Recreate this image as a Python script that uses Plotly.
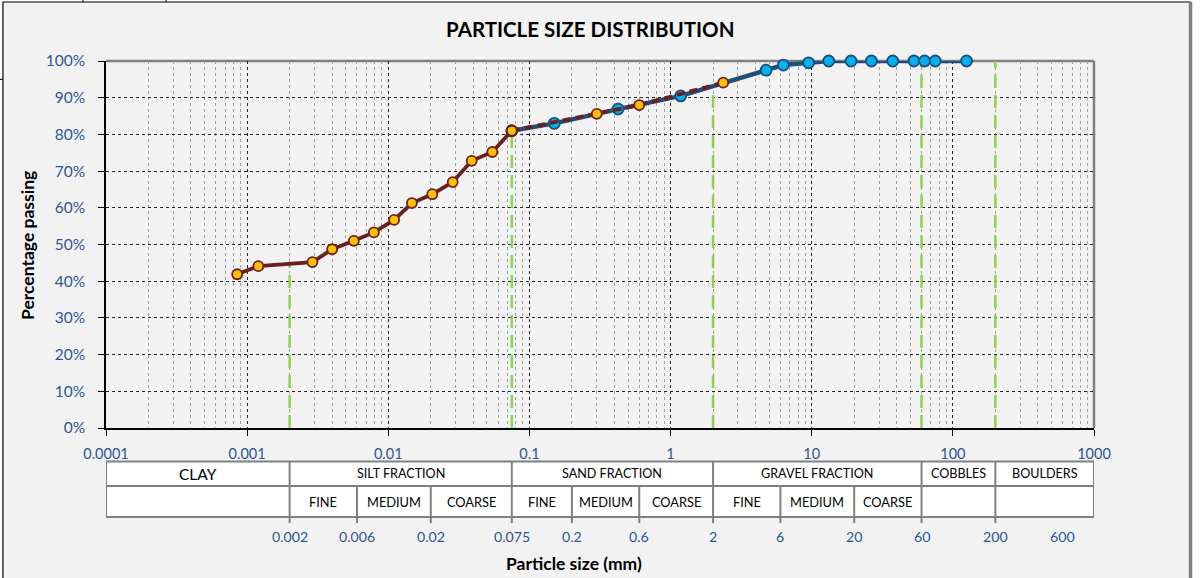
import numpy as np
import plotly.graph_objects as go

# ---------------- data ----------------
# hydrometer analysis (brown, solid) ending at 0.075 mm
hydro_size = [0.00085, 0.0012, 0.0029, 0.0040, 0.0057, 0.0079, 0.011, 0.0147,
              0.0205, 0.0286, 0.039, 0.0546, 0.075]
hydro_pass = [41.9, 44.1, 45.2, 48.7, 51.0, 53.3, 56.7, 61.3, 63.7, 67.0, 72.8, 75.2, 81.0]
# wet sieve (brown, dashed)
wet_size = [0.075, 0.3, 0.6, 2.36]
wet_pass = [81.0, 85.6, 88.0, 94.1]
# dry sieve (blue)
sieve_size = [0.075, 0.15, 0.425, 1.18, 4.75, 6.3, 9.5, 13.2, 19, 26.5, 37.5, 53, 63, 75, 125]
sieve_pass = [81.0, 83.0, 86.9, 90.5, 97.5, 98.9, 99.5, 100, 100, 100, 100, 100, 100, 100, 100]

# classification table
fraction_edges = [0.0001, 0.002, 0.075, 2, 60, 200, 1000]
fraction_names = ["CLAY", "SILT FRACTION", "SAND FRACTION", "GRAVEL FRACTION", "COBBLES", "BOULDERS"]
sub_edges = [0.002, 0.006, 0.02, 0.075, 0.2, 0.6, 2, 6, 20, 60]
sub_names = ["FINE", "MEDIUM", "COARSE", "FINE", "MEDIUM", "COARSE", "FINE", "MEDIUM", "COARSE"]
bottom_labels = [0.002, 0.006, 0.02, 0.075, 0.2, 0.6, 2, 6, 20, 60, 200, 600]
boundary_sizes = [0.002, 0.075, 2, 60, 200]
x_tick_vals = [0.0001, 0.001, 0.01, 0.1, 1, 10, 100, 1000]
x_tick_text = ["0.0001", "0.001", "0.01", "0.1", "1", "10", "100", "1000"]

FONT = "Lato"
BLUE_TXT = "#2f5597"
BROWN = "#6b1f1f"
ORANGE = "#ffc000"
DBLUE = "#1f4e79"
LBLUE = "#00b0f0"
GREEN = "#92d050"
GRAY = "#808080"

fig = go.Figure()

# sieve (blue)
fig.add_trace(go.Scatter(x=sieve_size, y=sieve_pass, mode="lines+markers", cliponaxis=False,
                         line=dict(color=DBLUE, width=4.5),
                         marker=dict(size=11, color=LBLUE, line=dict(color=DBLUE, width=1.8)),
                         showlegend=False))
# wet sieve (brown dashed)
fig.add_trace(go.Scatter(x=wet_size, y=wet_pass, mode="lines+markers", cliponaxis=False,
                         line=dict(color=BROWN, width=3.8, dash="8px,5px"),
                         marker=dict(size=10, color=ORANGE, line=dict(color=BROWN, width=1.8)),
                         showlegend=False))
# hydrometer (brown solid)
fig.add_trace(go.Scatter(x=hydro_size, y=hydro_pass, mode="lines+markers", cliponaxis=False,
                         line=dict(color=BROWN, width=3.8),
                         marker=dict(size=10, color=ORANGE, line=dict(color=BROWN, width=1.8)),
                         showlegend=False))

# combined curve for boundary lines
all_size = np.array(hydro_size + wet_size[1:] + sieve_size[1:], dtype=float)
all_pass = np.array(hydro_pass + wet_pass[1:] + sieve_pass[1:], dtype=float)
order = np.argsort(all_size)
all_size, all_pass = all_size[order], all_pass[order]

shapes = []
# chart background frame
shapes.append(dict(type="rect", xref="paper", yref="paper", x0=-0.1043, x1=1.0977,
                   y0=-0.45, y1=1.1608, fillcolor="#f2f2f2",
                   line=dict(color="black", width=1.2), layer="below"))
shapes.append(dict(type="line", xref="paper", yref="paper", x0=1.0977, x1=1.0977,
                   y0=-0.45, y1=1.1608, line=dict(color=GRAY, width=3.5), layer="below"))
# spreadsheet cell lines above the chart
for xp in [-0.0233, 0.0607]:
    shapes.append(dict(type="line", xref="paper", yref="paper", x0=xp, x1=xp, y0=1.1608, y1=1.17,
                       line=dict(color="black", width=1), layer="below"))
shapes.append(dict(type="line", xref="paper", yref="paper", x0=-0.11, x1=-0.1043, y0=0.95, y1=0.95,
                   line=dict(color="black", width=1), layer="below"))

for b in boundary_sizes:
    yv = float(np.interp(np.log10(b), np.log10(all_size), all_pass))
    shapes.append(dict(type="line", xref="x", yref="y", x0=b, x1=b, y0=0, y1=yv,
                       line=dict(color=GREEN, width=2.5, dash="13px,7px"), layer="between"))

# plot border top/right
shapes.append(dict(type="line", xref="paper", yref="paper", x0=0, x1=1, y0=1, y1=1,
                   line=dict(color=GRAY, width=2.5), layer="between"))
shapes.append(dict(type="line", xref="paper", yref="paper", x0=1, x1=1, y0=0, y1=1,
                   line=dict(color=GRAY, width=2.5), layer="between"))

# table
T_TOP, T_MID, T_BOT, T_EXT = -0.0913, -0.158, -0.2425, -0.259
shapes.append(dict(type="rect", xref="x", yref="paper", x0=fraction_edges[0], x1=fraction_edges[-1],
                   y0=T_BOT, y1=T_TOP, fillcolor="white", line=dict(color=GRAY, width=2)))
shapes.append(dict(type="line", xref="x", yref="paper", x0=fraction_edges[0], x1=fraction_edges[-1],
                   y0=T_MID, y1=T_MID, line=dict(color=GRAY, width=2)))
for e in fraction_edges[1:-1]:
    shapes.append(dict(type="line", xref="x", yref="paper", x0=e, x1=e, y0=T_EXT, y1=T_TOP,
                       line=dict(color=GRAY, width=2)))
for e in sub_edges:
    if e not in fraction_edges:
        shapes.append(dict(type="line", xref="x", yref="paper", x0=e, x1=e, y0=T_EXT, y1=T_MID,
                           line=dict(color=GRAY, width=2)))

annotations = []
for i, name in enumerate(fraction_names):
    xc = 0.5 * (np.log10(fraction_edges[i]) + np.log10(fraction_edges[i + 1]))
    annotations.append(dict(x=xc, y=-0.1247, xref="x", yref="paper", text=name, showarrow=False,
                            xanchor="center", yanchor="middle",
                            font=dict(family=FONT, size=15.5 if name == "CLAY" else 12.6, color="black")))
for i, name in enumerate(sub_names):
    xc = 0.5 * (np.log10(sub_edges[i]) + np.log10(sub_edges[i + 1]))
    annotations.append(dict(x=xc, y=-0.2003, xref="x", yref="paper", text=name, showarrow=False,
                            xanchor="center", yanchor="middle",
                            font=dict(family=FONT, size=12.8, color="black")))
for v in bottom_labels:
    annotations.append(dict(x=np.log10(v), y=-0.297, xref="x", yref="paper", text=f"{v:g}",
                            xanchor="center", yanchor="middle",
                            showarrow=False, font=dict(family=FONT, size=14.2, color=BLUE_TXT)))
annotations.append(dict(x=0.4737, y=-0.368, xref="paper", yref="paper", text="<b>Particle size (mm)</b>",
                        xanchor="center", yanchor="middle",
                        showarrow=False, font=dict(family=FONT, size=17.5, color="black")))
annotations.append(dict(x=-0.0800, y=0.4986, xref="paper", yref="paper", text="<b>Percentage passing</b>",
                        xanchor="center", yanchor="middle",
                        textangle=-90, showarrow=False, font=dict(family=FONT, size=17.5, color="black")))
annotations.append(dict(x=0.4899, y=1.087, xref="paper", yref="paper", text="<b>PARTICLE SIZE DISTRIBUTION</b>",
                        xanchor="center", yanchor="middle",
                        showarrow=False, font=dict(family=FONT, size=20.5, color="black")))

fig.update_layout(
    width=1203, height=578,
    margin=dict(l=106, r=109, t=61, b=150),
    paper_bgcolor="white", plot_bgcolor="white",
    shapes=shapes, annotations=annotations,
    xaxis=dict(type="log", range=[-4, 3], tickvals=x_tick_vals, ticktext=x_tick_text,
               showgrid=True, gridcolor="#262626", griddash="dot", gridwidth=1,
               minor=dict(showgrid=True, gridcolor="#a0a0a0", griddash="dot", gridwidth=1, dtick="D1"),
               showline=True, linecolor="black", linewidth=1.5,
               ticks="outside", ticklen=6, tickcolor="black",
               tickfont=dict(family=FONT, size=14.5, color=BLUE_TXT), ticklabelstandoff=6,
               zeroline=False, fixedrange=True),
    yaxis=dict(range=[0, 100], dtick=10, ticksuffix="%",
               showgrid=True, gridcolor="#262626", griddash="dot", gridwidth=1,
               showline=True, linecolor="black", linewidth=1.5,
               ticks="outside", ticklen=6, tickcolor="black",
               tickfont=dict(family=FONT, size=15.5, color=BLUE_TXT), ticklabelstandoff=10,
               zeroline=False, fixedrange=True),
)

fig.write_html("out.html", config={"displayModeBar": False},
               post_script="document.body.style.margin='0';document.body.style.overflow='hidden';")
